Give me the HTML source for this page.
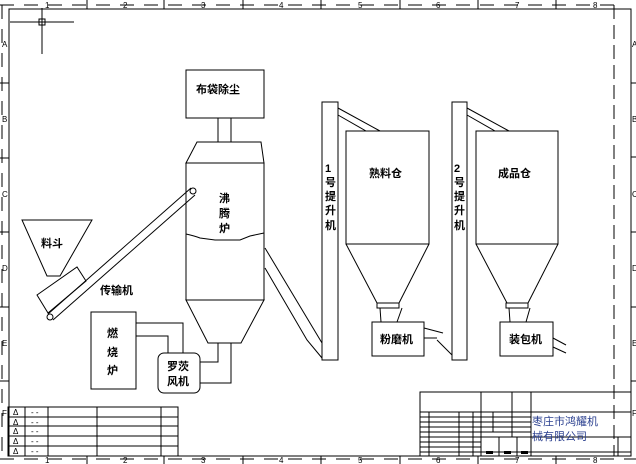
<!DOCTYPE html>
<html><head><meta charset="utf-8"><style>
html,body{margin:0;padding:0;background:#fff;}
svg{display:block;}
text{font-family:"Liberation Sans","Noto Sans CJK SC",sans-serif;font-size:11px;font-weight:bold;fill:#000;}
.s{font-size:8px;font-weight:normal;}
</style></head><body>
<svg width="636" height="464" viewBox="0 0 636 464" xmlns="http://www.w3.org/2000/svg" fill="none" stroke="#000" stroke-width="1">
<!-- frame -->
<rect x="9" y="9" width="622" height="447"/>
<line x1="614" y1="5" x2="614" y2="456" stroke-dasharray="14,6"/>
<line x1="602" y1="5" x2="614" y2="5"/>
<line x1="2" y1="5" x2="2" y2="458" stroke-dasharray="14,10"/>
<line x1="0" y1="5" x2="614" y2="5" stroke-dasharray="14,10"/>
<line x1="0" y1="459" x2="636" y2="459" stroke-dasharray="14,10"/>
<g>
<line x1="87" y1="0" x2="87" y2="9"/><line x1="164" y1="0" x2="164" y2="9"/><line x1="243" y1="0" x2="243" y2="9"/><line x1="321" y1="0" x2="321" y2="9"/><line x1="400" y1="0" x2="400" y2="9"/><line x1="478" y1="0" x2="478" y2="9"/><line x1="556" y1="0" x2="556" y2="9"/>
<line x1="87" y1="456" x2="87" y2="464"/><line x1="164" y1="456" x2="164" y2="464"/><line x1="243" y1="456" x2="243" y2="464"/><line x1="321" y1="456" x2="321" y2="464"/><line x1="400" y1="456" x2="400" y2="464"/><line x1="478" y1="456" x2="478" y2="464"/><line x1="556" y1="456" x2="556" y2="464"/>
<line x1="0" y1="83" x2="9" y2="83"/><line x1="0" y1="158" x2="9" y2="158"/><line x1="0" y1="232" x2="9" y2="232"/><line x1="0" y1="307" x2="9" y2="307"/><line x1="0" y1="381" x2="9" y2="381"/>
<line x1="631" y1="83" x2="636" y2="83"/><line x1="631" y1="157" x2="636" y2="157"/><line x1="631" y1="232" x2="636" y2="232"/><line x1="631" y1="307" x2="636" y2="307"/><line x1="631" y1="381" x2="636" y2="381"/>
</g>
<g stroke="none">
<text class="s" x="45" y="8">1</text><text class="s" x="123" y="8">2</text><text class="s" x="201" y="8">3</text><text class="s" x="279" y="8">4</text><text class="s" x="358" y="8">5</text><text class="s" x="436" y="8">6</text><text class="s" x="515" y="8">7</text><text class="s" x="593" y="8">8</text>
<text class="s" x="45" y="463">1</text><text class="s" x="123" y="463">2</text><text class="s" x="201" y="463">3</text><text class="s" x="279" y="463">4</text><text class="s" x="358" y="463">5</text><text class="s" x="436" y="463">6</text><text class="s" x="515" y="463">7</text><text class="s" x="593" y="463">8</text>
<text class="s" x="2" y="47">A</text><text class="s" x="2" y="122">B</text><text class="s" x="2" y="197">C</text><text class="s" x="2" y="271">D</text><text class="s" x="2" y="346">E</text><text class="s" x="2" y="416">F</text>
<text class="s" x="632" y="47">A</text><text class="s" x="632" y="122">B</text><text class="s" x="632" y="197">C</text><text class="s" x="632" y="271">D</text><text class="s" x="632" y="346">E</text><text class="s" x="632" y="416">F</text>
</g>
<!-- crosshair -->
<line x1="10" y1="22" x2="74" y2="22"/><line x1="42" y1="8" x2="42" y2="54"/><rect x="39" y="19" width="6" height="6"/>

<!-- dust collector -->
<rect x="186" y="70" width="78" height="48"/>
<line x1="218" y1="118" x2="218" y2="142"/><line x1="231" y1="118" x2="231" y2="142"/>
<polygon points="197,142 261,142 264,163 186,163"/>
<rect x="186" y="163" width="78" height="137"/>
<path d="M186,234 Q195,236 200,238 L215,240 L240,240 L250,236 L264,233"/>
<polygon points="186,300 264,300 241,343 208,343"/>
<polyline points="218,343 218,362 200,362"/><polyline points="231,343 231,383 200,383"/>
<rect x="158" y="353" width="42" height="40" rx="6"/>
<rect x="91" y="312" width="45" height="77"/>
<polyline points="136,323 183,323 183,353"/><polyline points="136,336 168,336 168,353"/>
<!-- hopper & conveyor -->
<polygon points="22,220 92,220 60,276 47,276"/>
<polygon points="37,295 77,267 86,281 48,313"/>
<line x1="48" y1="314" x2="191" y2="188"/><line x1="53" y1="320" x2="195" y2="195"/>
<circle cx="50" cy="317" r="3" fill="#fff"/><circle cx="193" cy="191" r="3" fill="#fff"/>
<!-- pipe to elevator 1 -->
<line x1="265" y1="248" x2="322" y2="343"/><polyline points="265,268 307,340 322,358"/>
<!-- elevator 1 -->
<rect x="322" y="102" width="16" height="258"/>
<line x1="338" y1="108" x2="380" y2="131"/><line x1="338" y1="115" x2="366" y2="131"/>
<rect x="346" y="131" width="83" height="113"/>
<polyline points="346,244 377,303"/><polyline points="429,244 399,303"/>
<rect x="377" y="303" width="22" height="5"/>
<line x1="380" y1="308" x2="381" y2="322"/><line x1="402" y1="308" x2="397" y2="322"/>
<rect x="372" y="322" width="52" height="34"/>
<line x1="424" y1="328" x2="443" y2="333"/><polyline points="424,338 437,338"/><polyline points="437,340 452,355"/>
<!-- elevator 2 -->
<rect x="452" y="102" width="15" height="258"/>
<line x1="467" y1="108" x2="509" y2="131"/><line x1="467" y1="115" x2="495" y2="131"/>
<rect x="476" y="131" width="82" height="113"/>
<polyline points="476,244 507,303"/><polyline points="558,244 528,303"/>
<rect x="506" y="303" width="22" height="5"/>
<line x1="509" y1="308" x2="510" y2="322"/><line x1="530" y1="308" x2="526" y2="322"/>
<rect x="500" y="322" width="53" height="34"/>
<line x1="553" y1="338" x2="566" y2="345"/><line x1="553" y1="347" x2="566" y2="353"/>

<!-- left table -->
<rect x="8" y="407" width="170" height="49"/>
<line x1="8" y1="417" x2="178" y2="417"/><line x1="8" y1="426" x2="178" y2="426"/><line x1="8" y1="436" x2="178" y2="436"/><line x1="8" y1="446" x2="178" y2="446"/>
<line x1="25" y1="407" x2="25" y2="456"/><line x1="48" y1="407" x2="48" y2="456"/><line x1="97" y1="407" x2="97" y2="456"/><line x1="161" y1="407" x2="161" y2="456"/>
<g stroke="none" fill="#000">
<text class="s" x="13" y="415">Δ</text><text class="s" x="13" y="425">Δ</text><text class="s" x="13" y="434">Δ</text><text class="s" x="13" y="444">Δ</text><text class="s" x="13" y="454">Δ</text>
<text class="s" x="31" y="415">- -</text><text class="s" x="31" y="425">- -</text><text class="s" x="31" y="434">- -</text><text class="s" x="31" y="444">- -</text><text class="s" x="31" y="454">- -</text>
</g>
<!-- title block -->
<rect x="420" y="392" width="211" height="64"/>
<line x1="420" y1="412" x2="631" y2="412"/>
<line x1="481" y1="392" x2="481" y2="456"/><line x1="512" y1="392" x2="512" y2="437"/><line x1="531" y1="392" x2="531" y2="456"/>
<g>
<line x1="420" y1="417" x2="531" y2="417"/><line x1="420" y1="422" x2="531" y2="422"/><line x1="420" y1="427" x2="531" y2="427"/><line x1="420" y1="432" x2="531" y2="432"/><line x1="420" y1="437" x2="631" y2="437"/><line x1="420" y1="442" x2="481" y2="442"/><line x1="420" y1="447" x2="481" y2="447"/><line x1="420" y1="452" x2="631" y2="452"/>
<line x1="429" y1="412" x2="429" y2="456"/><line x1="459" y1="412" x2="459" y2="456"/><line x1="473" y1="412" x2="473" y2="456"/><line x1="493" y1="412" x2="493" y2="432"/>
<line x1="499" y1="437" x2="499" y2="456"/><line x1="517" y1="437" x2="517" y2="456"/><line x1="618" y1="437" x2="618" y2="456"/>
</g>
<g stroke="none" fill="#000"><rect x="486" y="451" width="7" height="3"/><rect x="504" y="451" width="7" height="3"/><rect x="521" y="451" width="7" height="3"/></g>
<g stroke="none">
<text x="532" y="425" style="font-weight:normal;fill:#2a3f8f;font-size:11px">枣庄市鸿耀机</text>
<text x="532" y="440" style="font-weight:normal;fill:#2a3f8f;font-size:11px">械有限公司</text>
<text x="196" y="93">布袋除尘</text>
<text x="219" y="202">沸</text><text x="219" y="217">腾</text><text x="219" y="232">炉</text>
<text x="41" y="247">料斗</text>
<text x="100" y="294">传输机</text>
<text x="107" y="337">燃</text><text x="107" y="356">烧</text><text x="107" y="374">炉</text>
<text x="167" y="370">罗茨</text><text x="167" y="385">风机</text>
<text x="325" y="172">1</text><text x="325" y="186">号</text><text x="325" y="200">提</text><text x="325" y="214">升</text><text x="325" y="229">机</text>
<text x="454" y="172">2</text><text x="454" y="186">号</text><text x="454" y="200">提</text><text x="454" y="214">升</text><text x="454" y="229">机</text>
<text x="369" y="177">熟料仓</text>
<text x="498" y="177">成品仓</text>
<text x="380" y="343">粉磨机</text>
<text x="509" y="343">装包机</text>
</g>
</svg>
</body></html>
